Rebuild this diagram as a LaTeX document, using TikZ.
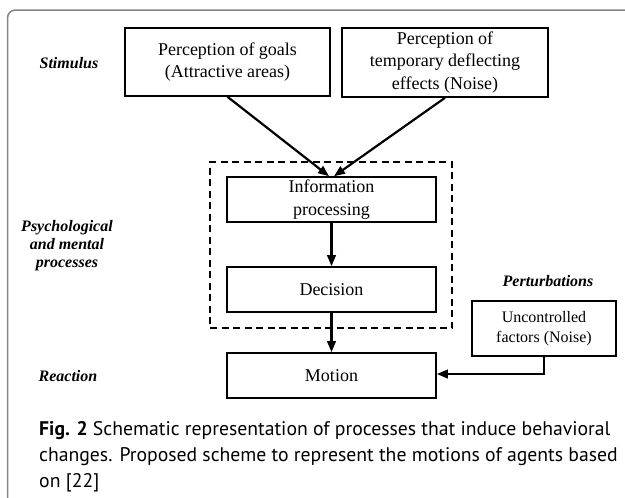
\documentclass[tikz,border=0pt]{standalone}
\usepackage{fontspec}
\setmainfont{Liberation Serif}
\newfontfamily\capfont{PT Sans}
\usetikzlibrary{arrows.meta}
\begin{document}
\begin{tikzpicture}[x=1pt,y=-1pt,
  box/.style={draw, line width=1.6pt, inner sep=0pt, align=center,
    font=\fontsize{18}{22.3}\selectfont},
  smallbox/.style={box, font=\fontsize{16}{19.4}\selectfont},
  arr/.style={line width=2.2pt, -{Triangle[length=11pt,width=8.5pt]}},
  lab/.style={align=center, font=\fontsize{16}{18}\selectfont\bfseries\itshape},
  group/.style={draw, line width=1.5pt, dash pattern=on 7pt off 4.5pt, inner sep=0pt}]
\useasboundingbox (0,0) rectangle (625,498);
\draw[black!48, line width=1.5pt, rounded corners=8pt] (7.5,498) -- (7.5,10) -- (625,10);

\node[group, minimum width=242pt, minimum height=166pt] (grp) at (331,245) {};

\node[box, minimum width=205pt, minimum height=68pt] (b1) at (227.5,62) {Perception of goals\\(Attractive areas)};
\node[box, minimum width=206pt, minimum height=69pt] (b2) at (445,62.5) {Perception of\\temporary deflecting\\effects (Noise)};
\node[box, minimum width=209pt, minimum height=45pt] (info) at (331.5,199.5) {Information\\processing};
\node[box, minimum width=209pt, minimum height=45pt] (dec) at (331.5,289.5) {Decision};
\node[box, minimum width=209pt, minimum height=45pt] (mot) at (331.5,375.5) {Motion};
\node[smallbox, minimum width=144pt, minimum height=55pt] (unc) at (544,328.5) {Uncontrolled\\factors (Noise)};

\node[lab] (stim) at (69,63) {Stimulus};
\node[lab] (psy) at (67,246) {Psychological\\and mental\\processes};
\node[lab] (react) at (68,376) {Reaction};
\node[lab] (pert) at (548,281) {Perturbations};

\draw[arr] (b1.south) -- ([xshift=-2.5pt]info.north);
\draw[arr] (b2.south) -- ([xshift=2.5pt]info.north);
\draw[arr] (info) -- (dec);
\draw[arr] (dec) -- (mot);
\draw[arr] (unc.south) |- ([yshift=1.5pt]mot.east);

\node[anchor=north west, align=left, inner sep=0pt,
  font=\capfont\fontsize{19.7}{26}\selectfont] (cap) at (39,421)
  {\textbf{Fig. 2} Schematic representation of processes that induce behavioral\\
   changes. Proposed scheme to represent the motions of agents based\\
   on [22]};
\end{tikzpicture}
\end{document}
